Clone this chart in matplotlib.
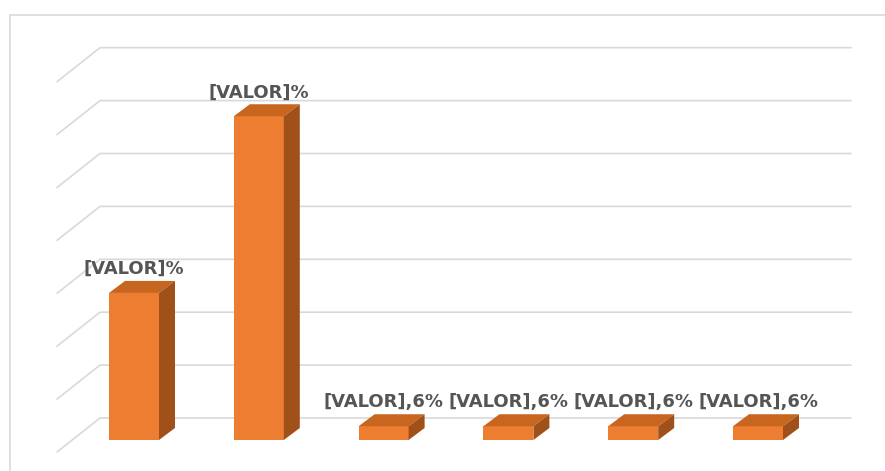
import matplotlib.pyplot as plt
from matplotlib.patches import Polygon, Rectangle

# --- Data ---
categories = ["C1", "C2", "C3", "C4", "C5", "C6"]
values = [27.8, 61.2, 2.6, 2.6, 2.6, 2.6]
value_labels = ["[VALOR]%", "[VALOR]%", "[VALOR],6%", "[VALOR],6%", "[VALOR],6%", "[VALOR],6%"]
grid_values = [0, 10, 20, 30, 40, 50, 60, 70]

# --- Canvas geometry (pixels of the 885x471 picture) ---
W, H = 885, 471
PX_PER_CAT = 124.8   # distance between two bars
PX_PER_VAL = 5.29    # pixels per value unit
X0_PX = 134          # centre of first bar front face
Y0_PX = 440          # base of the bars, measured from the top


def dx(px):
    return px / PX_PER_CAT


def dy(px):
    return px / PX_PER_VAL


FRONT = "#ED7D31"
TOP = "#C8651F"
SIDE = "#A0511A"
GRID = "#d9d9d9"
TEXT = "#555555"

fig = plt.figure(figsize=(W / 100, H / 100), dpi=100)
fig.patch.set_facecolor("white")
ax = fig.add_axes([0, 0, 1, 1])
ax.set_xlim(-X0_PX / PX_PER_CAT, (W - X0_PX) / PX_PER_CAT)
ax.set_ylim(-(H - Y0_PX) / PX_PER_VAL, Y0_PX / PX_PER_VAL)
ax.axis("off")

# chart area border (top and left sides visible)
fig.patches.append(Rectangle((10 / W, -0.05), 1.2, (H - 15) / H + 0.05,
                             transform=fig.transFigure, fill=False,
                             edgecolor=GRID, linewidth=1.2))

# --- Walls: side wall diagonals + back wall gridlines ---
x_left_front = (57 - X0_PX) / PX_PER_CAT
x_left_back = x_left_front + dx(43)
x_right = (851 - X0_PX) / PX_PER_CAT
for g in grid_values:
    ax.plot([x_left_front, x_left_back, x_right],
            [g - dy(12), g + dy(22), g + dy(22)],
            color=GRID, linewidth=1.2, zorder=1, solid_capstyle="round")

# --- 3D-looking bars ---
x = list(range(len(categories)))
bw = dx(50)
ddx, ddy = dx(16), dy(12)
ax.bar(x, values, width=bw, color=FRONT, zorder=3)
for xi, v in zip(x, values):
    left, right = xi - bw / 2, xi + bw / 2
    ax.add_patch(Polygon([(left, v), (right, v), (right + ddx, v + ddy), (left + ddx, v + ddy)],
                         closed=True, facecolor=TOP, edgecolor="none", zorder=3))
    ax.add_patch(Polygon([(right, 0), (right + ddx, ddy), (right + ddx, v + ddy), (right, v)],
                         closed=True, facecolor=SIDE, edgecolor="none", zorder=3))

# --- Data labels ---
for xi, v, lab in zip(x, values, value_labels):
    ax.annotate(lab, (xi, v + ddy), xytext=(0, 2), textcoords="offset points",
                ha="center", va="bottom", fontsize=13, fontweight="bold",
                color=TEXT, zorder=4)

plt.savefig("out.png", dpi=100, facecolor="white")
plt.close()
